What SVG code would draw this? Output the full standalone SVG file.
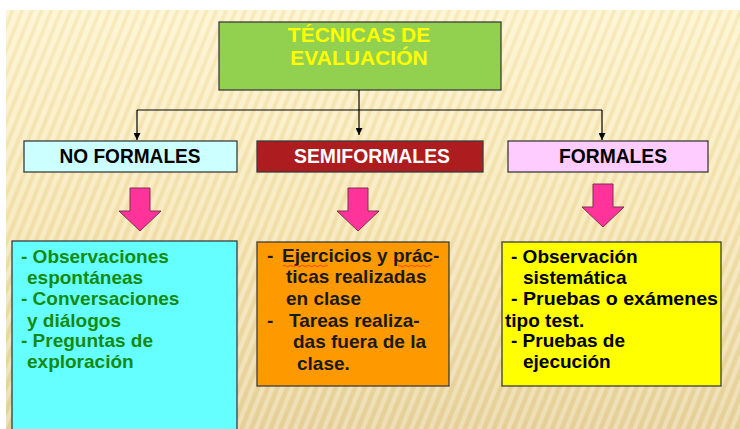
<svg xmlns="http://www.w3.org/2000/svg" width="740" height="429" viewBox="0 0 740 429">
<defs>
<linearGradient id="bg" x1="0" y1="0" x2="0" y2="1">
<stop offset="0" stop-color="#fdf2c9"/>
<stop offset="0.5" stop-color="#f5e4b0"/>
<stop offset="1" stop-color="#e7d29b"/>
</linearGradient>
<pattern id="stripes" width="9" height="20" patternUnits="userSpaceOnUse" patternTransform="rotate(22)">
<rect x="0" y="0" width="4" height="20" fill="#ffffff" opacity="0.28"/>
<rect x="5" y="0" width="3" height="20" fill="#d9c07a" opacity="0.16"/>
</pattern>
<marker id="ah" viewBox="0 0 10 10" refX="10" refY="5" markerWidth="7" markerHeight="7" markerUnits="userSpaceOnUse" orient="auto">
<path d="M0,0 L10,5 L0,10 Z" fill="#000"/>
</marker>
<path id="parrow" d="M-10,0 H10 V23 H21 L0,43 L-21,23 H-10 Z"/>
</defs>
<style>
.box{stroke:#3c3c3c;stroke-width:1.3}
.t{font-family:"Liberation Sans",Arial,sans-serif;font-weight:bold}
.conn{stroke:#000;stroke-width:1.2;fill:none}
.pk{fill:#ff3399;stroke:#7a3050;stroke-width:1}
</style>
<rect x="0" y="0" width="740" height="429" fill="#ffffff"/>
<rect x="6" y="10" width="734" height="419" fill="url(#bg)"/>
<rect x="6" y="10" width="734" height="419" fill="url(#stripes)"/>

<g id="root">
<rect class="box" x="219" y="22" width="282" height="68" fill="#92d050"/>
<text class="t" x="359" y="42" font-size="21" fill="#ffff00" text-anchor="middle">TÉCNICAS DE</text>
<text class="t" x="359" y="65" font-size="21" fill="#ffff00" text-anchor="middle">EVALUACIÓN</text>
</g>

<g id="connectors">
<path class="conn" d="M359,90 V135" marker-end="url(#ah)"/>
<path class="conn" d="M137,110 H602"/>
<path class="conn" d="M137,110 V140" marker-end="url(#ah)"/>
<path class="conn" d="M602,110 V140" marker-end="url(#ah)"/>
<use href="#parrow" class="pk" x="140" y="188"/>
<use href="#parrow" class="pk" x="358" y="188"/>
<use href="#parrow" class="pk" x="603" y="184" transform="translate(0,0)"/>
</g>

<g id="noformales">
<rect class="box" x="24" y="141" width="213" height="31" fill="#ccffff"/>
<text class="t" x="130" y="163" font-size="21" fill="#000" text-anchor="middle" textLength="141" lengthAdjust="spacingAndGlyphs">NO FORMALES</text>
</g>
<g id="semiformales">
<rect class="box" x="257" y="141" width="226" height="31" fill="#ad1c1f"/>
<text class="t" x="372" y="163" font-size="21" fill="#ffffff" text-anchor="middle" textLength="156" lengthAdjust="spacingAndGlyphs">SEMIFORMALES</text>
</g>
<g id="formales">
<rect class="box" x="508" y="141" width="200" height="31" fill="#ffccff"/>
<text class="t" x="613" y="163" font-size="21" fill="#000" text-anchor="middle" textLength="108" lengthAdjust="spacingAndGlyphs">FORMALES</text>
</g>

<g id="lista-noformales">
<rect class="box" x="12" y="241" width="225" height="200" fill="#66ffff"/>
<g class="t" font-size="19" fill="#138a13">
<text x="21" y="263">- Observaciones</text>
<text x="27" y="284">espontáneas</text>
<text x="21" y="305">- Conversaciones</text>
<text x="27" y="327">y diálogos</text>
<text x="21" y="347">- Preguntas de</text>
<text x="27" y="368">exploración</text>
</g>
</g>

<g id="lista-semiformales">
<rect class="box" x="257" y="242" width="192" height="144" fill="#ff9900"/>
<g class="t" font-size="19" fill="#1a1a1a">
<text x="267" y="262">-</text>
<text x="282" y="262">Ejercicios y prác-</text>
<text x="286" y="283">ticas realizadas</text>
<text x="286" y="305">en clase</text>
<text x="267" y="327">-</text>
<text x="289" y="327">Tareas realiza-</text>
<text x="293" y="348">das fuera de la</text>
<text x="297" y="370">clase.</text>
</g>
<path d="M283,266 q1.5,-1.5 3,0 t3,0 t3,0 t3,0 t3,0 t3,0 t3,0 t3,0 t3,0 t3,0 t3,0 t3,0 t3,0 t3,0 t3,0" fill="none" stroke="#e03030" stroke-width="0.8"/>
<path d="M398,266 q1.5,-1.5 3,0 t3,0 t3,0 t3,0 t3,0 t3,0 t3,0 t3,0 t3,0 t3,0 t3,0" fill="none" stroke="#e03030" stroke-width="0.8"/>
</g>

<g id="lista-formales">
<rect class="box" x="502" y="242" width="219" height="144" fill="#ffff00"/>
<g class="t" font-size="19" fill="#000">
<text x="511" y="263">- Observación</text>
<text x="523" y="284">sistemática</text>
<text x="511" y="305" textLength="207" lengthAdjust="spacingAndGlyphs">- Pruebas o exámenes</text>
<text x="505" y="327">tipo test.</text>
<text x="511" y="347">- Pruebas de</text>
<text x="523" y="368">ejecución</text>
</g>
</g>
</svg>
